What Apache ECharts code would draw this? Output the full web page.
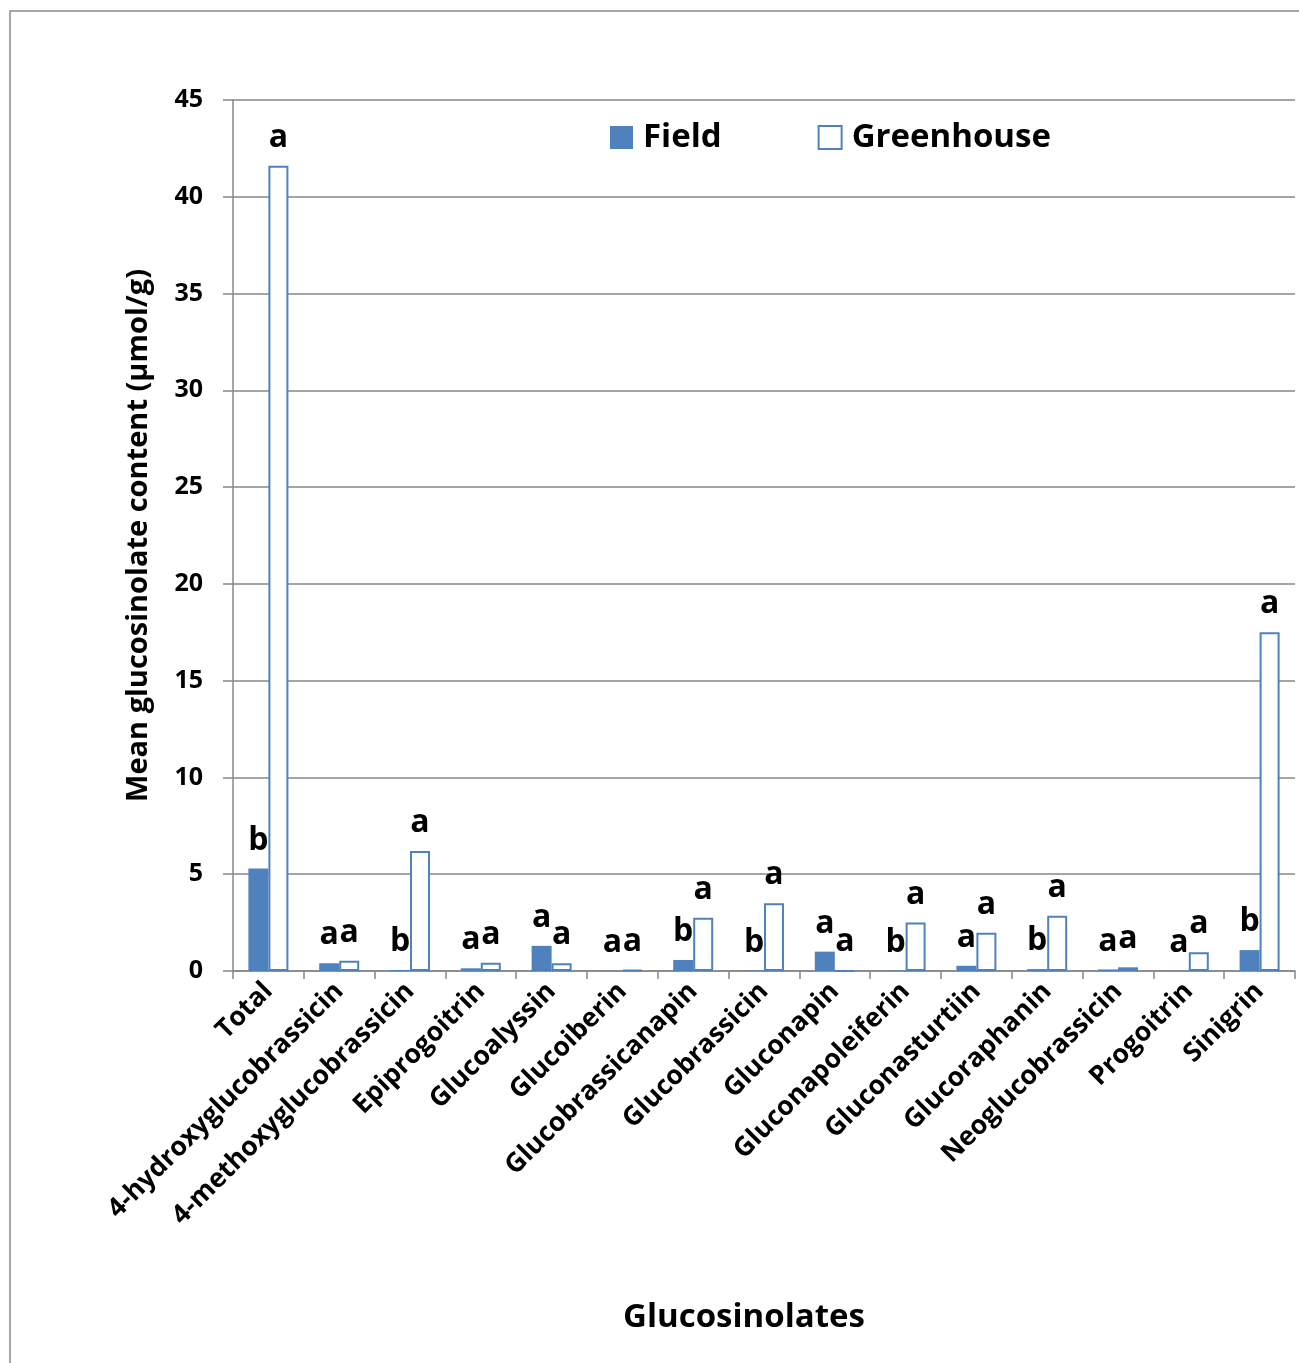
<!DOCTYPE html>
<html>
<head>
<meta charset="utf-8">
<script src="https://cdn.jsdelivr.net/npm/echarts@6/dist/echarts.min.js"></script>
<style>
html,body{margin:0;padding:0;background:#fff;}
#chart{width:1299px;height:1363px;}
</style>
</head>
<body>
<div id="chart"></div>
<script>
const categories = ["Total","4-hydroxyglucobrassicin","4-methoxyglucobrassicin","Epiprogoitrin","Glucoalyssin","Glucoiberin","Glucobrassicanapin","Glucobrassicin","Gluconapin","Gluconapoleiferin","Gluconasturtiin","Glucoraphanin","Neoglucobrassicin","Progoitrin","Sinigrin"];
const fieldValues = [5.3, 0.4, 0.05, 0.14, 1.3, 0.01, 0.57, 0.02, 1.0, 0.02, 0.27, 0.1, 0.08, 0.01, 1.08];
const greenhouseValues = [41.6, 0.53, 6.2, 0.43, 0.4, 0.05, 2.75, 3.5, 0, 2.5, 1.98, 2.86, 0.19, 0.97, 17.5];
const fieldLetters = ["b","a","b","a","a","a","b","b","a","b","a","b","a","a","b"];
const greenhouseLetters = ["a","a","a","a","a","a","a","a","a","a","a","a","a","a","a"];
const yTicks = [0,5,10,15,20,25,30,35,40,45];

const FONT = '"Open Sans", sans-serif';
const BLUE = '#4F81BD';
const GRID = '#878787';

const chart = echarts.init(document.getElementById('chart'), null, {renderer:'canvas'});
const labelStyle = {show:true, position:'top', distance:12, color:'#000', fontFamily:FONT, fontWeight:'bold', fontSize:32};

chart.setOption({
  animation:false,
  backgroundColor:'#fff',
  grid:{left:233, right:4, top:100, bottom:392, containLabel:false},
  legend:{
    left:605, top:116, itemWidth:23, itemHeight:23, itemGap:96,
    textStyle:{fontFamily:FONT, fontWeight:'bold', fontSize:33, color:'#000', padding:[0,0,0,5]},
    data:[{name:'Field', icon:'rect'},{name:'Greenhouse', icon:'rect'}]
  },
  graphic:[
    {type:'rect', shape:{x:10, y:11, width:1400, height:1400}, style:{fill:'none', stroke:'#8a8a8a', lineWidth:1.5}, silent:true, z:-10},
    {type:'text', x:744, y:1318, style:{text:'Glucosinolates', font:'bold 33px ' + FONT, fill:'#000', align:'center', verticalAlign:'middle', textAlign:'center', textVerticalAlign:'middle'}}
  ],
  xAxis:{
    type:'category', data:categories, boundaryGap:true,
    axisLine:{show:true, lineStyle:{color:GRID, width:1.5}},
    axisTick:{show:true, length:8, alignWithLabel:false, lineStyle:{color:GRID, width:1.5}},
    axisLabel:{interval:0, rotate:45, margin:16, color:'#000', fontFamily:FONT, fontWeight:'bold', fontSize:26.5}
  },
  yAxis:{
    type:'value', min:0, max:45, interval:5,
    name:'Mean glucosinolate content (µmol/g)', nameLocation:'middle', nameGap:80, nameRotate:90,
    nameTextStyle:{color:'#000', fontFamily:FONT, fontWeight:'bold', fontSize:29},
    axisLine:{show:true, lineStyle:{color:GRID, width:1.5}},
    axisTick:{show:true, length:10, inside:false, lineStyle:{color:GRID, width:1.5}},
    splitLine:{show:true, lineStyle:{color:GRID, width:1.5}},
    axisLabel:{margin:30, color:'#000', fontFamily:FONT, fontWeight:'bold', fontSize:25,
      formatter:(v)=> yTicks.includes(v) ? String(v) : ''}
  },
  series:[
    {name:'Field', type:'bar', data:fieldValues, barWidth:20, barGap:'0%',
      itemStyle:{color:BLUE},
      label:Object.assign({}, labelStyle, {formatter:(p)=>fieldLetters[p.dataIndex]})},
    {name:'Greenhouse', type:'bar', data:greenhouseValues, barWidth:20,
      itemStyle:{color:'#fff', borderColor:BLUE, borderWidth:2},
      label:Object.assign({}, labelStyle, {formatter:(p)=>greenhouseLetters[p.dataIndex]})}
  ]
});
</script>
</body>
</html>
